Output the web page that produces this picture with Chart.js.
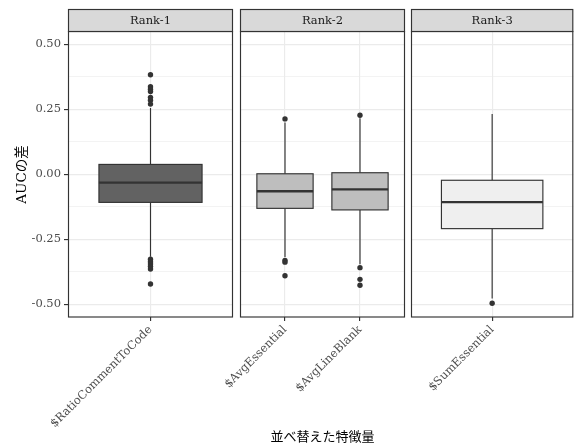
<!DOCTYPE html>
<html><head><meta charset="utf-8">
<script src="https://cdn.jsdelivr.net/npm/chart.js@4.4.1/dist/chart.umd.min.js"></script>
<style>
html,body{margin:0;padding:0;background:#fff;overflow:hidden;}
#wrap{position:relative;width:576px;height:447px;background:#fff;}
#wrap canvas{position:absolute;left:0;top:0;}
</style></head><body>
<div id="wrap">
<canvas id="p0" width="576" height="447"></canvas>
<canvas id="p1" width="576" height="447"></canvas>
<canvas id="p2" width="576" height="447"></canvas>
</div>
<script>
// ---- data ----
const facetLabels = ['Rank-1', 'Rank-2', 'Rank-3'];
const features = ['$RatioCommentToCode', '$AvgEssential', '$AvgLineBlank', '$SumEssential'];
const featureFacet = [0, 1, 1, 2];
const whiskerLow = [-0.317, -0.318, -0.346, -0.478];
const q1 = [-0.108, -0.131, -0.137, -0.209];
const median = [-0.032, -0.065, -0.058, -0.107];
const q3 = [0.038, 0.002, 0.006, -0.023];
const whiskerHigh = [0.255, 0.199, 0.216, 0.232];
const outliersRatioCommentToCode = [0.383, 0.337, 0.327, 0.318, 0.296, 0.285, 0.270, -0.327, -0.336, -0.345, -0.354, -0.364, -0.422];
const outliersAvgEssential = [0.213, -0.331, -0.338, -0.390];
const outliersAvgLineBlank = [0.227, -0.359, -0.404, -0.427];
const outliersSumEssential = [-0.496];
const outliers = [outliersRatioCommentToCode, outliersAvgEssential, outliersAvgLineBlank, outliersSumEssential];
const yTicks = [-0.5, -0.25, 0, 0.25, 0.5];
const yTickLabels = ['-0.50', '-0.25', '0.00', '0.25', '0.50'];
const yMinorTicks = [-0.375, -0.125, 0.125, 0.375];
const xTitle = '並べ替えた特徴量';
const yTitle = 'AUCの差';

// ---- styles / layout ----
const SERIF = "'DejaVu Serif', 'Noto Sans CJK JP', serif";
const FACET_FILL = ['#626262', '#BEBEBE', '#EFEFEF'];
const PANELS = [
  {left: 0, right: 343, axisW: 68},
  {left: 240, right: 171, axisW: 0},
  {left: 411, right: 0, axisW: 0}
];
const Y_MIN = -0.5489, Y_MAX = 0.5473;
const BOX_HALF = 0.375;
const DARK = '#333333';
const LW = 1.15;

const facetPlugin = {
  id: 'facet',
  beforeDatasetsDraw(chart) {
    const o = chart.options.plugins.facet;
    const {ctx, chartArea: a, scales: {x, y}} = chart;
    ctx.save();
    ctx.beginPath(); ctx.rect(a.left, a.top, a.width, a.height); ctx.clip();
    o.idx.forEach((i, k) => {
      const p = k + 1;
      const cx = x.getPixelForValue(p);
      const xl = x.getPixelForValue(p - BOX_HALF);
      const xr = x.getPixelForValue(p + BOX_HALF);
      const yq1 = y.getPixelForValue(q1[i]), yq3 = y.getPixelForValue(q3[i]);
      ctx.strokeStyle = DARK; ctx.lineWidth = LW;
      ctx.beginPath();
      ctx.moveTo(cx, y.getPixelForValue(whiskerHigh[i])); ctx.lineTo(cx, yq3);
      ctx.moveTo(cx, yq1); ctx.lineTo(cx, y.getPixelForValue(whiskerLow[i]));
      ctx.stroke();
      ctx.fillStyle = o.fill;
      ctx.fillRect(xl, yq3, xr - xl, yq1 - yq3);
      ctx.strokeRect(xl, yq3, xr - xl, yq1 - yq3);
      const ym = y.getPixelForValue(median[i]);
      ctx.lineWidth = 2.4;
      ctx.beginPath(); ctx.moveTo(xl, ym); ctx.lineTo(xr, ym); ctx.stroke();
    });
    ctx.restore();
  },
  afterDraw(chart) {
    const o = chart.options.plugins.facet;
    const {ctx, chartArea: a} = chart;
    ctx.save();
    ctx.strokeStyle = DARK; ctx.lineWidth = LW;
    ctx.strokeRect(a.left + 0.5, a.top - 0.5, a.width - 1, a.height + 0.5);
    // strip
    const sTop = 9.5, sBot = a.top - 0.5;
    ctx.fillStyle = '#D9D9D9';
    ctx.fillRect(a.left + 0.5, sTop, a.width - 1, sBot - sTop);
    ctx.strokeRect(a.left + 0.5, sTop, a.width - 1, sBot - sTop);
    ctx.fillStyle = '#1A1A1A';
    ctx.font = '11.5px ' + SERIF;
    ctx.textAlign = 'center'; ctx.textBaseline = 'middle';
    ctx.fillText(facetLabels[o.facet], (a.left + a.right) / 2, (sTop + sBot) / 2 + 0.5);
    ctx.restore();
  }
};
Chart.register(facetPlugin);

function makeChart(f) {
  const idx = features.map((_, i) => i).filter(i => featureFacet[i] === f);
  const n = idx.length;
  const pos = idx.map((_, k) => k + 1);
  const pts = [];
  idx.forEach((i, k) => outliers[i].forEach(v => pts.push({x: k + 1, y: v})));
  const P = PANELS[f];
  const isMajor = c => c && c.tick && yTicks.includes(c.tick.value);
  return new Chart(document.getElementById('p' + f), {
    type: 'scatter',
    data: {datasets: [{data: pts, pointRadius: 2.7, pointHoverRadius: 2.7, backgroundColor: DARK, borderWidth: 0}]},
    options: {
      responsive: false, animation: false, events: [],
      layout: {padding: {left: P.left, right: P.right, top: 32, bottom: 0}},
      plugins: {legend: {display: false}, tooltip: {enabled: false}, facet: {facet: f, idx: idx, fill: FACET_FILL[f]}},
      scales: {
        x: {
          type: 'linear', min: 0.4, max: n + 0.6,
          afterBuildTicks: s => { s.ticks = pos.map(v => ({value: v})); },
          afterFit: s => { s.height = 130; },
          ticks: {autoSkip: false, minRotation: 45, maxRotation: 45, padding: 2, color: '#4D4D4D',
                  font: {family: SERIF, size: 11.5}, callback: (v, k) => features[idx[k]]},
          grid: {color: '#EBEBEB', lineWidth: LW, tickColor: DARK, tickLength: 4, drawTicks: true, tickWidth: LW},
          border: {display: false},
          title: {display: f === 1, text: xTitle, color: '#000', font: {family: SERIF, size: 13}, padding: {top: 0, bottom: 2}}
        },
        y: {
          min: Y_MIN, max: Y_MAX,
          afterBuildTicks: s => { s.ticks = [...yTicks, ...yMinorTicks].sort((a, b) => a - b).map(v => ({value: v})); },
          afterFit: s => { s.width = P.axisW; },
          ticks: {display: f === 0, color: '#4D4D4D', padding: 3, font: {family: SERIF, size: 11.5},
                  callback: v => { const k = yTicks.indexOf(v); return k >= 0 ? yTickLabels[k] : ''; }},
          grid: {color: '#EBEBEB', lineWidth: c => isMajor(c) ? LW : 0.6, drawTicks: f === 0, tickLength: 4,
                 tickColor: c => isMajor(c) ? DARK : 'rgba(0,0,0,0)', tickWidth: LW},
          border: {display: false},
          title: {display: f === 0, text: yTitle, color: '#000', font: {family: SERIF, size: 13.5}, padding: {top: 14, bottom: 0}}
        }
      }
    }
  });
}
[0, 1, 2].forEach(makeChart);
</script>
</body></html>
